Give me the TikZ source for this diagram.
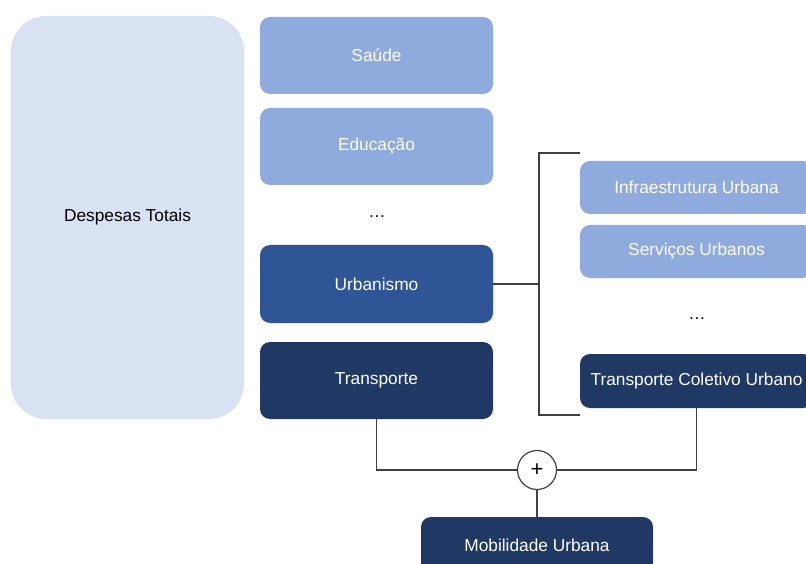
\documentclass[tikz,border=0pt]{standalone}
\usepackage{fontspec}
\setmainfont{Liberation Sans}
\definecolor{cTot}{HTML}{D9E2F3}
\definecolor{cLight}{HTML}{8FAADC}
\definecolor{cMid}{HTML}{2F5597}
\definecolor{cDark}{HTML}{203864}
\definecolor{cLine}{HTML}{404040}
\begin{document}
\begin{tikzpicture}[x=1pt,y=-1pt,
  box/.style={rectangle, rounded corners=10pt, minimum width=233pt, inner sep=0pt, text=white,
    font=\fontsize{17.3}{20}\selectfont},
  light/.style={box, fill=cLight},
  mid/.style={box, fill=cMid},
  dark/.style={box, fill=cDark},
  dotsnode/.style={inner sep=0pt, font=\fontsize{17.3}{20}\selectfont},
  conn/.style={draw=cLine, line width=1.2pt}]
\useasboundingbox (0,0) rectangle (806,564);
\node[box, fill=cTot, text=black, rounded corners=35pt, minimum height=403pt] (tot) at (127.5,217.5) {Despesas Totais};
\node[light, minimum height=77pt] (saude) at (376.5,55.5) {Saúde};
\node[light, minimum height=77pt] (edu) at (376.5,146.5) {Educação};
\node[dotsnode] (dots1) at (377,217) {\dots};
\node[mid, minimum height=78pt] (urb) at (376.5,284) {Urbanismo};
\node[dark, minimum height=77pt] (transp) at (376.5,380.5) {Transporte};
\node[light, minimum height=53pt] (infra) at (696.5,187.5) {Infraestrutura Urbana};
\node[light, minimum height=53pt] (serv) at (696.5,251.5) {Serviços Urbanos};
\node[dotsnode] (dots2) at (697,319) {\dots};
\node[dark, minimum height=54pt] (tcu) at (696.5,381) {Transporte Coletivo Urbano};
\node[circle, draw=cLine, line width=1.2pt, fill=white, minimum size=39pt, inner sep=0pt,
  font=\fontsize{22}{24}\selectfont] (plus) at (537,470) {+};
\node[dark, minimum width=232pt, minimum height=56pt] (mob) at (537,545) {Mobilidade Urbana};
\coordinate (bj) at (539,284);
\coordinate (bt) at (580,153);
\coordinate (btc) at (539,153);
\coordinate (bbc) at (539,415);
\coordinate (bb) at (580,415);
\draw[conn] (urb.east) -- (bj);
\draw[conn] (bt) -- (btc) -- (bbc) -- (bb);
\draw[conn] (transp.south) |- (plus.west);
\draw[conn] (tcu.south) |- (plus.east);
\draw[conn] (plus.south) -- (mob.north);
\end{tikzpicture}
\end{document}
